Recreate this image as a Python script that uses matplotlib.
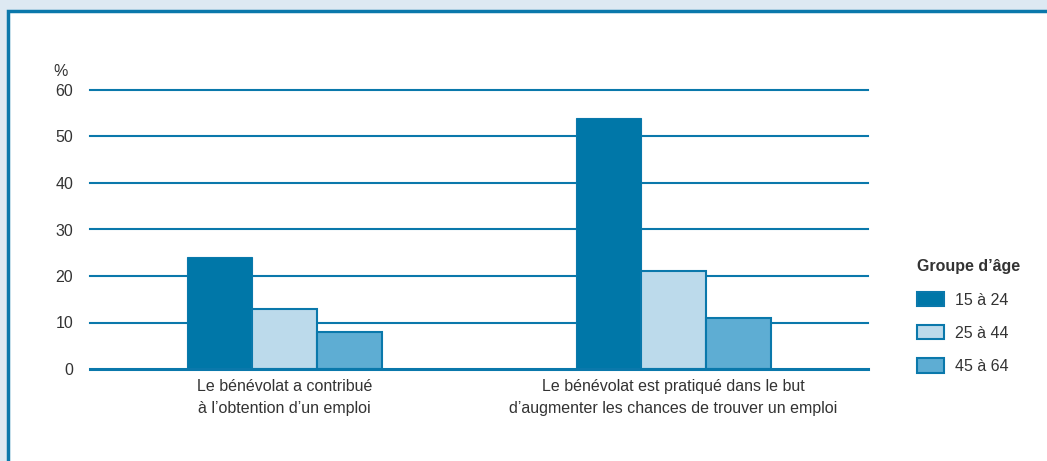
import matplotlib.pyplot as plt
from matplotlib.patches import Rectangle, Patch
import numpy as np

plt.rcParams['font.family'] = ['Liberation Sans Narrow', 'Liberation Sans', 'DejaVu Sans']

categories = ["Le bénévolat a contribué\nà l’obtention d’un emploi",
              "Le bénévolat est pratiqué dans le but\nd’augmenter les chances de trouver un emploi"]
groups = ["15 à 24", "25 à 44", "45 à 64"]
v_15_24 = [24, 54]
v_25_44 = [13, 21]
v_45_64 = [8, 11]
yticks = [0, 10, 20, 30, 40, 50, 60]

colors = ["#0077a8", "#bcdaeb", "#5eadd3"]
edge = "#0a78ab"
textc = "#333333"
fs = 11.5

fig = plt.figure(figsize=(10.47, 4.61), dpi=100)
fig.patch.set_facecolor("#dde9f2")

# white panel with dark blue border on left and top
fig.patches.append(Rectangle((8/1047, -0.1), 1.2, (461 - 11)/461 + 0.1,
                             transform=fig.transFigure, facecolor="white",
                             edgecolor="#0a78ab", linewidth=2.5, zorder=-5))

ax = fig.add_axes([90/1047, 1 - 369/461, (868 - 90)/1047, (369 - 90)/461])
ax.set_facecolor("none")

x = np.arange(len(categories))
w = 1/6
series = [v_15_24, v_25_44, v_45_64]
for i, vals in enumerate(series):
    ax.bar(x + (i - 1)*w, vals, w, color=colors[i], edgecolor=edge,
           linewidth=1.5 if i else 0.8, zorder=3)

ax.set_xlim(-0.5, 1.5)
ax.set_ylim(0, 60)
ax.set_yticks(yticks)
for t in yticks:
    ax.axhline(t, color="#0a78ab", linewidth=1.5 if t else 2.2,
               zorder=2 if t else 4, clip_on=False)
for s in ax.spines.values():
    s.set_visible(False)
ax.tick_params(axis='y', length=0, pad=12, labelsize=fs, labelcolor=textc)
ax.tick_params(axis='x', length=0, pad=7.5, labelsize=fs, labelcolor=textc)
ax.set_xticks(x)
ax.set_xticklabels(categories, linespacing=1.55)
ax.text(-0.028, 62.3, "%", transform=ax.get_yaxis_transform(), ha="right",
        va="bottom", fontsize=fs, color=textc)

handles = [Patch(facecolor=colors[i], edgecolor=edge, linewidth=1.5) for i in range(3)]
leg = fig.legend(handles, groups, loc="upper left", bbox_to_anchor=(903/1047, 1 - 245/461),
                 frameon=False, fontsize=fs, title="Groupe d’âge",
                 title_fontproperties={'weight': 'bold', 'size': fs},
                 handlelength=1.65, handleheight=1.0, labelspacing=1.1,
                 handletextpad=0.7, alignment="left")
for t in leg.get_texts():
    t.set_color(textc)
leg.get_title().set_color(textc)

fig.savefig("out.png", dpi=100, facecolor=fig.get_facecolor())
